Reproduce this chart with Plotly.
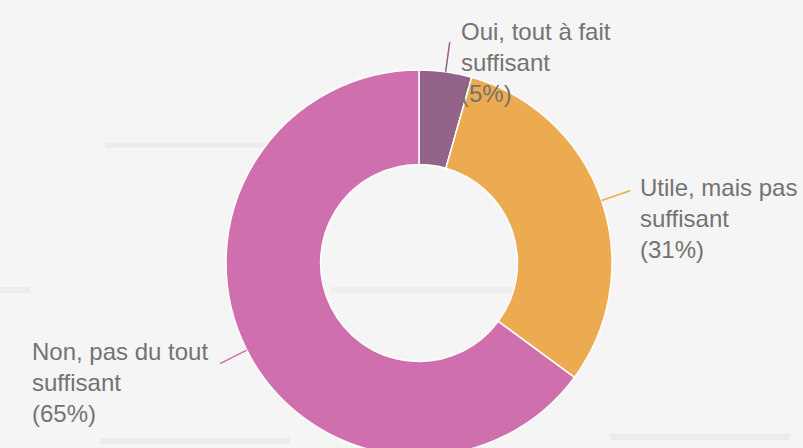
import math
import plotly.graph_objects as go

# ---- data ----
categories = ["Oui, tout à fait suffisant", "Utile, mais pas suffisant", "Non, pas du tout suffisant"]
label_lines = [["Oui, tout à fait", "suffisant"], ["Utile, mais pas", "suffisant"], ["Non, pas du tout", "suffisant"]]
shares = [4.4, 30.7, 64.9]          # slice sizes
pct_labels = ["5%", "31%", "65%"]   # percentages printed on the labels
colors = ["#936389", "#ECAB50", "#CF6FAD"]

# ---- layout constants (pixels) ----
W, H = 803, 460
CX, CY, R = 419, 263, 193
LEAD = 30
label_boxes = [(459, 16), (638, 172), (30, 336)]  # top-left of each label box
TEXT_COLOR = "#737373"
FONT = "Liberation Sans, Arial, sans-serif"
BG = "#f5f5f5"


def px(x, y):
    return x / W, 1 - y / H


fig = go.Figure()
fig.add_trace(go.Pie(
    labels=categories,
    values=shares,
    sort=False,
    direction="clockwise",
    rotation=0,
    hole=0.51,
    textinfo="none",
    hoverinfo="label+percent",
    marker=dict(colors=colors, line=dict(color="#ffffff", width=1.5)),
    domain=dict(x=[(CX - R) / W, (CX + R) / W], y=[1 - (CY + R) / H, 1 - (CY - R) / H]),
    showlegend=False,
))

total = sum(shares)
shapes = []
annotations = []

# faint background pattern (decorative soft shadows)
for (xa, ya, xb, yb, c, w) in [
    (105, 145, 270, 145, "rgba(0,0,0,0.035)", 5),
    (100, 441, 290, 441, "rgba(0,0,0,0.04)", 6),
    (610, 437, 790, 437, "rgba(0,0,0,0.04)", 6),
    (330, 290, 520, 290, "rgba(0,0,0,0.025)", 6),
    (0, 290, 30, 290, "rgba(0,0,0,0.03)", 6),
]:
    a0, b0 = px(xa, ya)
    a1, b1 = px(xb, yb)
    shapes.append(dict(type="line", xref="paper", yref="paper", x0=a0, y0=b0, x1=a1, y1=b1,
                       line=dict(color=c, width=w), layer="below"))

cum = 0
for i, v in enumerate(shares):
    mid = (cum + v / 2) / total
    cum += v
    ang = 2 * math.pi * mid
    x0, y0 = CX + R * math.sin(ang), CY - R * math.cos(ang)
    x1, y1 = CX + (R + LEAD) * math.sin(ang), CY - (R + LEAD) * math.cos(ang)
    a0, b0 = px(x0, y0)
    a1, b1 = px(x1, y1)
    shapes.append(dict(type="line", xref="paper", yref="paper", x0=a0, y0=b0, x1=a1, y1=b1,
                       line=dict(color=colors[i], width=1.5), layer="above"))
    bx, by = px(*label_boxes[i])
    annotations.append(dict(
        xref="paper", yref="paper", x=bx, y=by, xanchor="left", yanchor="top",
        align="left", showarrow=False,
        text="<br>".join(label_lines[i] + ["(" + pct_labels[i] + ")"]),
        font=dict(family=FONT, size=24, color=TEXT_COLOR),
    ))

fig.update_layout(
    width=W, height=H,
    margin=dict(l=0, r=0, t=0, b=0),
    paper_bgcolor=BG,
    plot_bgcolor=BG,
    shapes=shapes,
    annotations=annotations,
    font=dict(family=FONT),
)

fig.write_html(
    "out.html",
    config={"displayModeBar": False},
    post_script="document.body.style.margin='0';document.body.style.overflow='hidden';",
)
